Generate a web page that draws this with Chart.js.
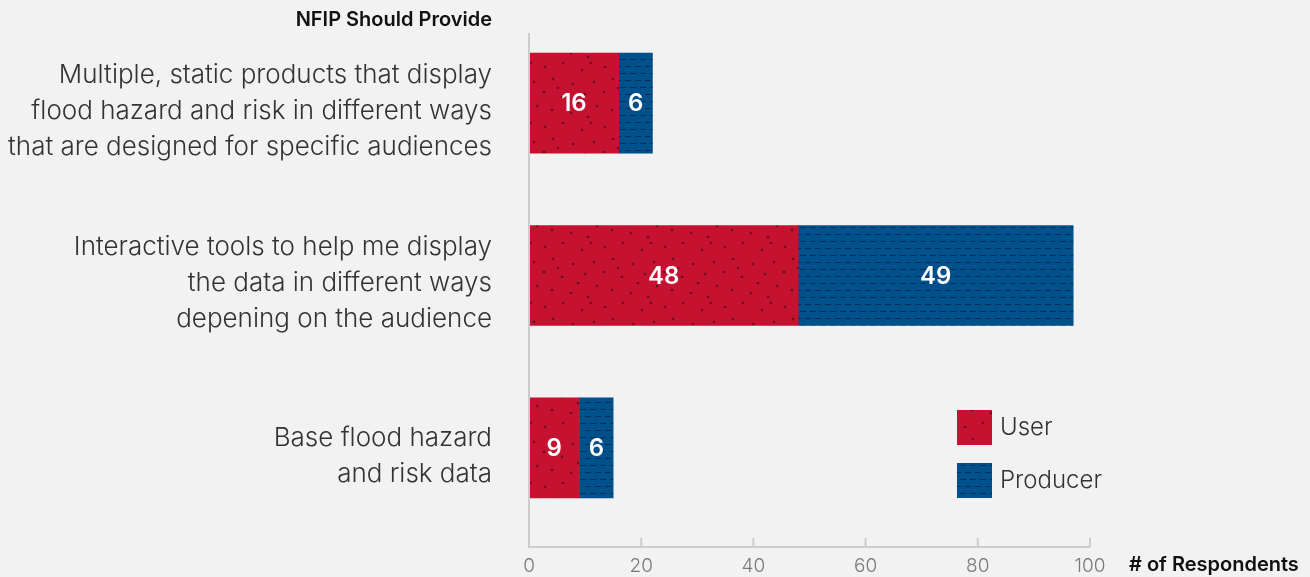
<!DOCTYPE html>
<html>
<head>
<meta charset="utf-8">
<script src="https://cdn.jsdelivr.net/npm/chart.js@4.4.1/dist/chart.umd.min.js"></script>
<style>
  html, body { margin: 0; padding: 0; background: #f2f2f2; }
  #wrap { width: 1310px; height: 577px; }
</style>
</head>
<body>
<div id="wrap"><canvas id="respChart"></canvas></div>
<script>
const categories = [
    ["Multiple, static products that display", "flood hazard and risk in different ways", "that are designed for specific audiences"],
    ["Interactive tools to help me display", "the data in different ways", "depening on the audience"],
    ["Base flood hazard", "and risk data"]
];
const userCounts = [16, 48, 9];
const producerCounts = [6, 49, 6];
const xTicks = [0, 20, 40, 60, 80, 100];

const RED = "#c41230";
const BLUE = "#00508c";

// speckled red fill
function dotPattern() {
    const c = document.createElement("canvas");
    c.width = 60; c.height = 60;
    const g = c.getContext("2d");
    g.fillStyle = RED;
    g.fillRect(0, 0, 60, 60);
    g.fillStyle = "rgba(95, 10, 28, 0.8)";
    const dots = [[4, 6], [22, 2], [41, 9], [53, 21], [12, 18], [32, 23], [3, 31], [21, 36], [44, 33],
                  [56, 45], [11, 49], [30, 52], [47, 56], [37, 42], [17, 27], [50, 2]];
    dots.forEach(function (d) {
        g.beginPath();
        g.arc(d[0] + 1, d[1] + 1, 1.3, 0, Math.PI * 2);
        g.fill();
    });
    return g.createPattern(c, "repeat");
}

// dashed blue fill
function dashPattern() {
    const c = document.createElement("canvas");
    c.width = 10; c.height = 14;
    const g = c.getContext("2d");
    g.fillStyle = BLUE;
    g.fillRect(0, 0, 10, 14);
    g.fillStyle = "rgba(0, 35, 70, 0.75)";
    g.fillRect(0, 3, 6, 1);
    g.fillRect(5, 10, 5, 1);
    g.fillRect(0, 10, 1, 1);
    return g.createPattern(c, "repeat");
}

const bgPlugin = {
    id: "bg",
    beforeDraw(chart) {
        const ctx = chart.ctx;
        ctx.save();
        ctx.fillStyle = "#f2f2f2";
        ctx.fillRect(0, 0, chart.width, chart.height);
        ctx.restore();
    }
};

// axis lines, headings and legend
const decorPlugin = {
    id: "decor",
    afterDraw(chart) {
        const ctx = chart.ctx;
        const x = chart.scales.x;
        const area = chart.chartArea;
        const x0 = x.getPixelForValue(0);
        const axisY = area.bottom + 13;
        ctx.save();
        ctx.strokeStyle = "#cccccc";
        ctx.lineWidth = 2;
        ctx.beginPath();
        ctx.moveTo(x0, area.top + 16);
        ctx.lineTo(x0, axisY);
        ctx.lineTo(x.getPixelForValue(100), axisY);
        ctx.stroke();
        xTicks.forEach(function (t) {
            const px = x.getPixelForValue(t);
            ctx.beginPath();
            ctx.moveTo(px, axisY);
            ctx.lineTo(px, axisY - 9);
            ctx.stroke();
        });

        ctx.fillStyle = "#111";
        ctx.font = "600 20px Inter";
        ctx.textBaseline = "middle";
        ctx.textAlign = "right";
        ctx.fillText("NFIP Should Provide", x0 - 37, 20);
        ctx.textAlign = "left";
        ctx.fillText("# of Respondents", x.getPixelForValue(100) + 39, 565);

        // legend
        ctx.font = "300 24px Inter";
        chart.data.datasets.forEach(function (ds, i) {
            const ly = 410 + i * 53;
            ctx.fillStyle = ds.backgroundColor;
            ctx.fillRect(957, ly, 35, 35);
            ctx.fillStyle = "#333";
            ctx.fillText(ds.label, 1000, ly + 18);
        });
        ctx.restore();
    }
};

// value labels inside the bars
const valuePlugin = {
    id: "values",
    afterDatasetsDraw(chart) {
        const ctx = chart.ctx;
        ctx.save();
        ctx.fillStyle = "#fff";
        ctx.font = "600 24px Inter";
        ctx.textAlign = "center";
        ctx.textBaseline = "middle";
        chart.data.datasets.forEach(function (ds, i) {
            chart.getDatasetMeta(i).data.forEach(function (bar, j) {
                ctx.fillText(String(ds.data[j]), (bar.x + bar.base) / 2, bar.y + 1);
            });
        });
        ctx.restore();
    }
};

const ctx = document.getElementById("respChart").getContext("2d");
const respChart = new Chart(ctx, {
    type: "bar",
    data: {
        labels: categories,
        datasets: [{
            label: "User",
            data: userCounts,
            backgroundColor: dotPattern(),
            barThickness: 100
        }, {
            label: "Producer",
            data: producerCounts,
            backgroundColor: dashPattern(),
            barThickness: 100
        }]
    },
    options: {
        indexAxis: "y",
        responsive: true,
        maintainAspectRatio: false,
        animation: false,
        layout: { padding: { top: 17, right: 220, left: 0, bottom: 0 } },
        plugins: {
            legend: { display: false },
            tooltip: { enabled: false }
        },
        scales: {
            x: {
                stacked: true,
                min: 0,
                max: 100,
                afterBuildTicks(scale) { scale.ticks = xTicks.map(function (v) { return { value: v }; }); },
                afterFit(scale) { scale.height = 43; scale.paddingLeft = 0; scale.paddingRight = 0; },
                grid: { display: false, drawTicks: false },
                border: { display: false },
                ticks: { color: "#7a7a7a", font: { family: "Inter", size: 19, weight: 300 }, padding: 21, maxRotation: 0 }
            },
            y: {
                stacked: true,
                afterFit(scale) { scale.width = 529; scale.paddingTop = 0; scale.paddingBottom = 0; },
                grid: { display: false, drawTicks: false },
                border: { display: false },
                ticks: { color: "#333", font: { family: "Inter", size: 26, weight: 300, lineHeight: 1.385 }, padding: 37, labelOffset: 8 }
            }
        }
    },
    plugins: [bgPlugin, valuePlugin, decorPlugin]
});
</script>
</body>
</html>
